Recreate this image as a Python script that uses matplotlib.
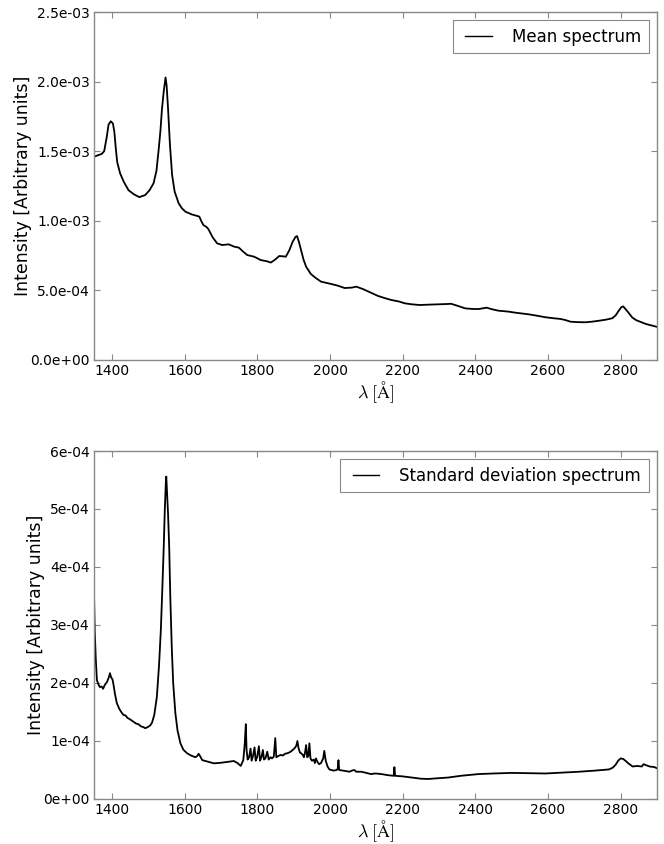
import matplotlib
matplotlib.use("Agg")
import matplotlib.pyplot as plt
from matplotlib.ticker import FormatStrFormatter
from matplotlib.lines import Line2D
from matplotlib.legend_handler import HandlerLine2D

plt.rcParams['mathtext.fontset'] = 'cm'

# Mean spectrum (wavelength in Angstrom, intensity in 1e-3)
mean_wl = [1350, 1360, 1371, 1378, 1385, 1390, 1396, 1402, 1406, 1410, 1414, 1422, 1432, 1445,
           1460, 1475, 1491, 1503, 1514, 1522, 1528, 1533, 1537, 1542, 1547, 1550, 1554, 1559,
           1565, 1572, 1583, 1592, 1602, 1620, 1634, 1640, 1645, 1651, 1660, 1665, 1677, 1689,
           1703, 1721, 1735, 1749, 1760, 1772, 1791, 1800, 1809, 1825, 1837, 1848, 1860, 1870,
           1878, 1888, 1897, 1905, 1909, 1914, 1920, 1927, 1934, 1947, 1960, 1975, 2003, 2020,
           2040, 2060, 2072, 2090, 2112, 2132, 2150, 2169, 2190, 2206, 2225, 2247, 2275, 2298,
           2320, 2333, 2350, 2372, 2390, 2409, 2431, 2445, 2464, 2490, 2510, 2547, 2570, 2593,
           2615, 2634, 2648, 2662, 2683, 2703, 2720, 2740, 2760, 2777, 2786, 2795, 2802, 2807,
           2812, 2823, 2832, 2842, 2869, 2900]
mean_val = [1.46, 1.47, 1.48, 1.50, 1.60, 1.69, 1.715, 1.70, 1.64, 1.52, 1.42, 1.34, 1.28, 1.22,
            1.19, 1.17, 1.185, 1.22, 1.27, 1.36, 1.51, 1.65, 1.80, 1.93, 2.03, 1.97, 1.80, 1.55,
            1.33, 1.21, 1.126, 1.09, 1.065, 1.045, 1.035, 1.03, 1.0, 0.97, 0.955, 0.94, 0.88, 0.838,
            0.826, 0.831, 0.815, 0.807, 0.78, 0.754, 0.742, 0.73, 0.718, 0.71, 0.70, 0.72, 0.747, 0.745,
            0.742, 0.79, 0.85, 0.885, 0.89, 0.85, 0.79, 0.72, 0.67, 0.618, 0.59, 0.563, 0.546, 0.535,
            0.517, 0.52, 0.527, 0.51, 0.484, 0.46, 0.445, 0.431, 0.42, 0.407, 0.40, 0.395, 0.398, 0.40,
            0.402, 0.404, 0.39, 0.371, 0.367, 0.366, 0.376, 0.365, 0.354, 0.348, 0.34, 0.328, 0.318, 0.307,
            0.30, 0.295, 0.287, 0.275, 0.272, 0.271, 0.275, 0.282, 0.29, 0.30, 0.32, 0.355, 0.38, 0.385,
            0.37, 0.335, 0.305, 0.287, 0.259, 0.238]

# Standard deviation spectrum (intensity in 1e-4)
std_wl = [1350, 1352, 1355, 1358, 1362, 1366, 1371, 1375, 1380, 1386, 1391, 1394, 1397, 1401,
          1404, 1408, 1413, 1420, 1425, 1431, 1437, 1442, 1450, 1459, 1466, 1472, 1480, 1486,
          1491, 1498, 1505, 1510, 1516, 1523, 1529, 1534, 1538, 1542, 1545, 1548, 1549, 1551,
          1554, 1557, 1560, 1564, 1568, 1574, 1580, 1588, 1596, 1606, 1617, 1629, 1634, 1638,
          1642, 1648, 1660, 1680, 1700, 1717, 1735, 1745, 1754, 1761, 1765, 1768, 1770, 1773,
          1777, 1781, 1784, 1788, 1792, 1795, 1799, 1804, 1807, 1811, 1815, 1818, 1822, 1827,
          1831, 1836, 1840, 1845, 1849, 1852, 1857, 1864, 1870, 1876, 1883, 1890, 1897, 1903,
          1907, 1910, 1913, 1917, 1920, 1925, 1928, 1931, 1934, 1937, 1940, 1943, 1946, 1950,
          1955, 1958, 1961, 1965, 1970, 1975, 1981, 1984, 1988, 1993, 1998, 2003, 2010, 2018,
          2021, 2023, 2025, 2035, 2045, 2053, 2060, 2067, 2072, 2086, 2100, 2112, 2125, 2141,
          2160, 2175, 2177, 2179, 2200, 2224, 2250, 2270, 2290, 2325, 2360, 2409, 2450, 2500,
          2550, 2593, 2640, 2685, 2730, 2768, 2778, 2786, 2793, 2800, 2807, 2814, 2822, 2833,
          2845, 2858, 2863, 2869, 2880, 2893, 2900]
std_val = [3.55, 2.9, 2.4, 2.05, 1.98, 1.93, 1.94, 1.90, 1.97, 2.02, 2.10, 2.17, 2.10, 2.06,
           1.96, 1.80, 1.65, 1.55, 1.50, 1.45, 1.44, 1.40, 1.37, 1.33, 1.30, 1.29, 1.25, 1.24,
           1.22, 1.24, 1.27, 1.32, 1.45, 1.76, 2.3, 2.91, 3.6, 4.35, 5.0, 5.5, 5.56, 5.3,
           4.9, 4.35, 3.5, 2.63, 2.0, 1.48, 1.18, 0.96, 0.85, 0.79, 0.75, 0.72, 0.74, 0.78,
           0.74, 0.67, 0.65, 0.615, 0.625, 0.64, 0.655, 0.62, 0.57, 0.67, 0.95, 1.29, 0.85, 0.68,
           0.72, 0.87, 0.66, 0.75, 0.89, 0.66, 0.72, 0.91, 0.66, 0.72, 0.845, 0.68, 0.70, 0.815,
           0.68, 0.72, 0.70, 0.73, 1.05, 0.72, 0.74, 0.76, 0.75, 0.78, 0.79, 0.81, 0.845, 0.88,
           0.92, 1.0, 0.88, 0.80, 0.79, 0.76, 0.72, 0.80, 0.93, 0.72, 0.74, 0.96, 0.70, 0.66,
           0.68, 0.62, 0.70, 0.64, 0.60, 0.62, 0.70, 0.83, 0.66, 0.56, 0.51, 0.50, 0.49, 0.50,
           0.52, 0.67, 0.50, 0.49, 0.48, 0.47, 0.49, 0.50, 0.47, 0.47, 0.45, 0.43, 0.44, 0.43,
           0.41, 0.40, 0.55, 0.40, 0.39, 0.37, 0.35, 0.345, 0.355, 0.37, 0.40, 0.43, 0.44, 0.45,
           0.445, 0.44, 0.455, 0.47, 0.49, 0.51, 0.54, 0.59, 0.66, 0.70, 0.69, 0.655, 0.61, 0.56,
           0.57, 0.56, 0.60, 0.585, 0.56, 0.55, 0.53]

x_ticks = [1400, 1600, 1800, 2000, 2200, 2400, 2600, 2800]
xlabel = r'$\lambda\;[\mathrm{\AA}]$'
ylabel = 'Intensity [Arbitrary units]'

fig = plt.figure(figsize=(6.64, 8.44), dpi=100)
ax1 = fig.add_axes([94/664, 1-360/844, (657-94)/664, (360-12)/844])
ax2 = fig.add_axes([94/664, 1-799/844, (657-94)/664, (799-451)/844])

spine_col = '#888888'

def style(ax):
    for s in ax.spines.values():
        s.set_color(spine_col)
        s.set_linewidth(1.0)
    ax.tick_params(direction='in', top=True, right=True, length=4, width=0.8,
                   color=spine_col, labelsize=10, pad=3)
    ax.set_xlim(1350, 2900)
    ax.set_xticks(x_ticks)
    ax.set_xlabel(xlabel, fontsize=13, labelpad=1)
    ax.set_ylabel(ylabel, fontsize=12.5, labelpad=-1)

ax1.plot(mean_wl, [v * 1e-3 for v in mean_val], color='black', lw=1.3, label='Mean spectrum')
ax1.set_ylim(0, 2.5e-3)
ax1.set_yticks([0, 0.5e-3, 1.0e-3, 1.5e-3, 2.0e-3, 2.5e-3])
ax1.yaxis.set_major_formatter(FormatStrFormatter('%.1e'))
style(ax1)

ax2.plot(std_wl, [v * 1e-4 for v in std_val], color='black', lw=1.3, label='Standard deviation spectrum')
ax2.set_ylim(0, 6e-4)
ax2.set_yticks([0, 1e-4, 2e-4, 3e-4, 4e-4, 5e-4, 6e-4])
ax2.yaxis.set_major_formatter(FormatStrFormatter('%.0e'))
style(ax2)

for ax in (ax1, ax2):
    leg = ax.legend(loc='upper right', fontsize=12, fancybox=False, framealpha=1,
                    handlelength=1.9, handletextpad=1.2, borderpad=0.45, borderaxespad=0.5,
                    handler_map={Line2D: HandlerLine2D(xpad=0.3)})
    leg.get_frame().set_edgecolor(spine_col)
    leg.get_frame().set_linewidth(0.8)
    for l in leg.get_lines():
        l.set_linewidth(1.0)

fig.savefig('out.png', dpi=100)
